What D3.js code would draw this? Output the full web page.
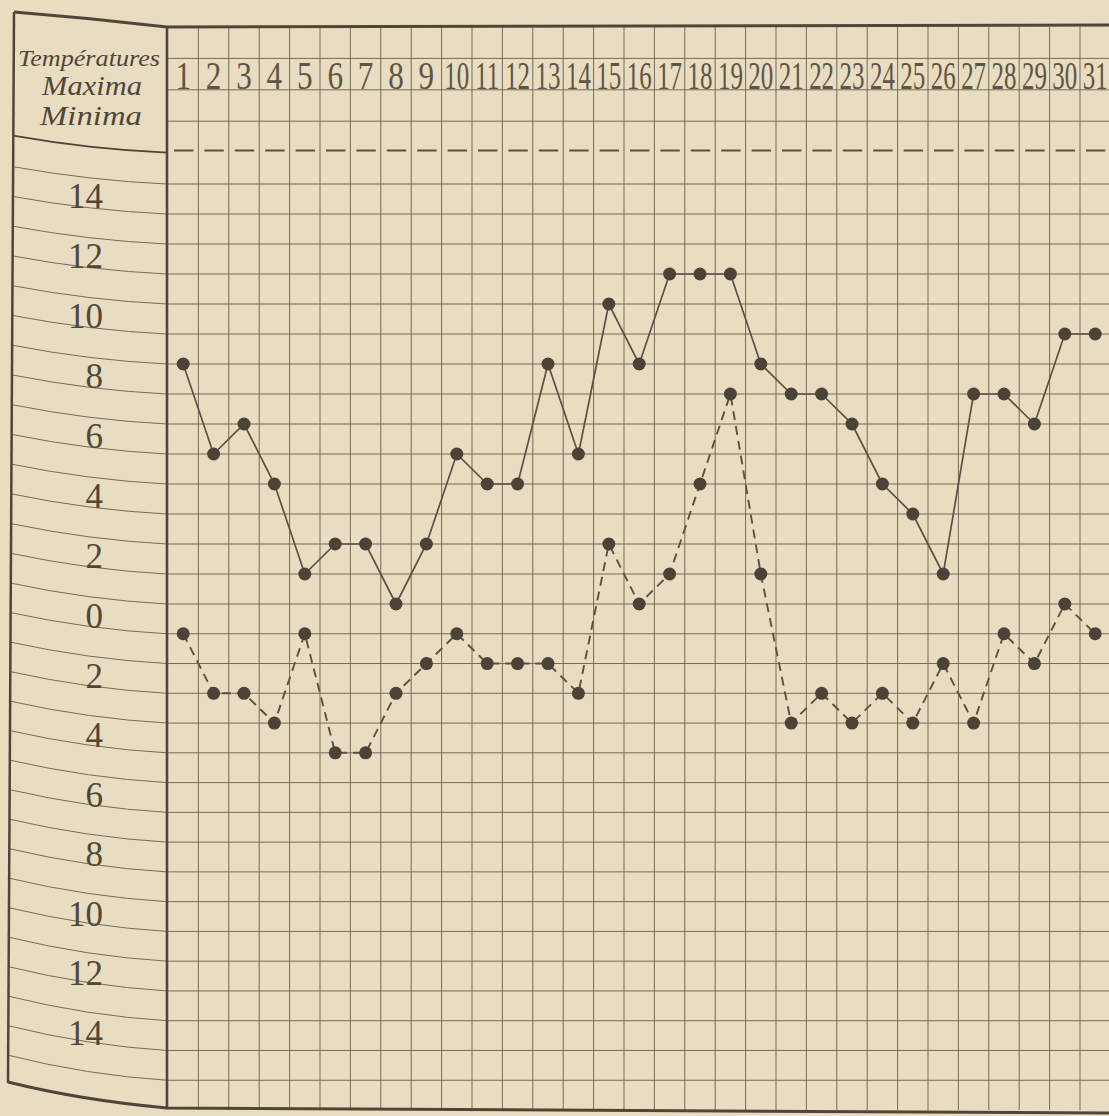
<!DOCTYPE html>
<html>
<head>
<meta charset="utf-8">
<script src="https://cdn.jsdelivr.net/npm/d3@7"></script>
<style>
  html, body { margin: 0; padding: 0; background: #e8dcc1; }
  svg { display: block; }
</style>
</head>
<body>
<svg id="chart" width="1109" height="1116"></svg>
<script>
// ---- data ----
const days = [1,2,3,4,5,6,7,8,9,10,11,12,13,14,15,16,17,18,19,20,21,22,23,24,25,26,27,28,29,30,31];
const maxima = [8,5,6,4,1,2,2,0,2,5,4,4,8,5,10,8,11,11,11,8,7,7,6,4,3,1,7,7,6,9,9];
const minima = [-1,-3,-3,-4,-1,-5,-5,-3,-2,-1,-2,-2,-2,-3,2,0,1,4,7,1,-4,-3,-4,-3,-4,-2,-4,-1,-2,0,-1];
const tickValues = [14,12,10,8,6,4,2,0,-2,-4,-6,-8,-10,-12,-14];
const tickLabels = ["14","12","10","8","6","4","2","0","2","4","6","8","10","12","14"];
const headerTitle = "Températures";
const headerSub1 = "Maxima";
const headerSub2 = "Minima";

// ---- styles ----
const ink = "#4f463a";
const gridInk = "#766b58";
const svg = d3.select("#chart");
svg.append("rect").attr("width", 1109).attr("height", 1116).attr("fill", "#e8dcc1");

// ---- scales ----
const plotLeft = 168, colW = 30.4;
const x = d3.scaleBand().domain(days).range([plotLeft, plotLeft + days.length * colW]).padding(0);
const cx = d => x(d) + x.bandwidth() / 2;
// piecewise: lower part, main part, header rows
const y = d3.scaleLinear().domain([-17, 0, 14, 19]).range([1110, 604, 184, 27]);

const gridVals = d3.range(-16, 15);      // degree lines in plot
const headerVals = [16, 17, 18];          // header rows lines

// ---- plot grid ----
const g = svg.append("g");
g.selectAll("line.h").data(gridVals).join("line")
  .attr("x1", plotLeft).attr("x2", 1109)
  .attr("y1", d => y(d)).attr("y2", d => y(d))
  .attr("stroke", gridInk).attr("stroke-width", 1);
g.selectAll("line.hh").data(headerVals).join("line")
  .attr("x1", plotLeft).attr("x2", 1109)
  .attr("y1", d => y(d)).attr("y2", d => y(d))
  .attr("stroke", gridInk).attr("stroke-width", 1);
// dashed line at 15
g.append("line")
  .attr("x1", plotLeft).attr("x2", 1109)
  .attr("y1", y(15) - 2).attr("y2", y(15) - 2)
  .attr("stroke", "#5a5142").attr("stroke-width", 2)
  .attr("stroke-dasharray", `${colW - 11},11`)
  .attr("stroke-dashoffset", -6);
// vertical lines
g.selectAll("line.v").data(days.slice(1)).join("line")
  .attr("x1", d => x(d)).attr("x2", d => x(d))
  .attr("y1", 27).attr("y2", y(-17))
  .attr("stroke", gridInk).attr("stroke-width", 1);
g.append("line")
  .attr("x1", x(31) + x.bandwidth()).attr("x2", x(31) + x.bandwidth())
  .attr("y1", 27).attr("y2", y(-17))
  .attr("stroke", gridInk).attr("stroke-width", 1);

// ---- left panel curved lines ----
const leftX = yy => 14 - (yy - 12) / (1082 - 12) * 6;
const panelLine = (v) => {
  const y1 = y(v);
  const rise = 17 + (y1 - 150) / 930 * 8;
  const y0 = y1 - rise;
  const x0 = leftX(y0), x1 = plotLeft - 1;
  return `M${x0},${y0} Q${x0 + 0.5 * (x1 - x0)},${y1 - 0.2 * rise} ${x1},${y1}`;
};
svg.append("g").selectAll("path").data(gridVals).join("path")
  .attr("d", d => panelLine(d))
  .attr("fill", "none").attr("stroke", gridInk).attr("stroke-width", 1);
svg.append("path").attr("d", panelLine(15))
  .attr("fill", "none").attr("stroke", ink).attr("stroke-width", 1.8);

// ---- frames ----
svg.append("path").attr("d", `M14,12 Q90,18 ${plotLeft - 1},27 L1109,25`)
  .attr("fill", "none").attr("stroke", ink).attr("stroke-width", 3);
svg.append("path").attr("d", `M8,1082 Q80,1100 ${plotLeft - 1},1108 L1109,1113`)
  .attr("fill", "none").attr("stroke", ink).attr("stroke-width", 3);
svg.append("line").attr("x1", 14).attr("y1", 12).attr("x2", 8).attr("y2", 1083)
  .attr("stroke", ink).attr("stroke-width", 2.5);
svg.append("line").attr("x1", plotLeft - 1).attr("y1", 26).attr("x2", plotLeft - 1).attr("y2", 1109)
  .attr("stroke", ink).attr("stroke-width", 2.6);

// ---- header text ----
const serif = "'Liberation Serif', 'DejaVu Serif', serif";
svg.append("text").text(headerTitle)
  .attr("x", 18).attr("y", 66)
  .attr("font-family", serif).attr("font-style", "italic").attr("font-size", 24)
  .attr("textLength", 142).attr("lengthAdjust", "spacingAndGlyphs")
  .attr("fill", ink);
svg.append("text").text(headerSub1)
  .attr("x", 42).attr("y", 95)
  .attr("font-family", serif).attr("font-style", "italic").attr("font-size", 27)
  .attr("textLength", 100).attr("lengthAdjust", "spacingAndGlyphs")
  .attr("fill", ink);
svg.append("text").text(headerSub2)
  .attr("x", 40).attr("y", 125)
  .attr("font-family", serif).attr("font-style", "italic").attr("font-size", 27)
  .attr("textLength", 102).attr("lengthAdjust", "spacingAndGlyphs")
  .attr("fill", ink);

// ---- day numbers ----
svg.append("g").selectAll("g").data(days).join("g")
  .attr("transform", d => `translate(${cx(d)},${y(17) - 1}) scale(${d < 10 ? 0.8 : 0.64},1)`)
  .append("text")
  .text(d => d)
  .attr("text-anchor", "middle")
  .attr("font-family", serif).attr("font-size", 39)
  .attr("fill", "#5e5546");

// ---- left tick labels ----
svg.append("g").selectAll("text").data(tickValues).join("text")
  .text((d, i) => tickLabels[i])
  .attr("x", 103)
  .attr("y", d => y(d) + 24)
  .attr("text-anchor", "end")
  .attr("font-family", serif).attr("font-size", 35)
  .attr("fill", "#504739");

// ---- data lines ----
const line = d3.line().x((d, i) => cx(days[i])).y(d => y(d));
svg.append("path").datum(maxima).attr("d", line)
  .attr("fill", "none").attr("stroke", "#5a5144").attr("stroke-width", 1.7);
svg.append("path").datum(minima).attr("d", line)
  .attr("fill", "none").attr("stroke", "#5a5144").attr("stroke-width", 1.9)
  .attr("stroke-dasharray", "9,6");

svg.append("g").selectAll("circle").data(maxima).join("circle")
  .attr("cx", (d, i) => cx(days[i])).attr("cy", d => y(d)).attr("r", 6.5)
  .attr("fill", "#4b4238");
svg.append("g").selectAll("circle").data(minima).join("circle")
  .attr("cx", (d, i) => cx(days[i])).attr("cy", d => y(d)).attr("r", 6.5)
  .attr("fill", "#4b4238");
</script>
</body>
</html>
